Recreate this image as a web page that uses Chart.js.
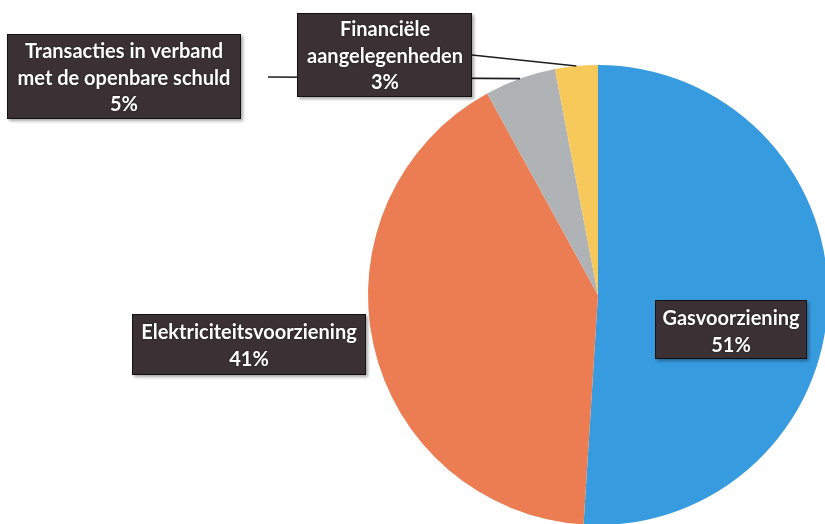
<!DOCTYPE html>
<html>
<head>
<meta charset="utf-8">
<script src="https://cdn.jsdelivr.net/npm/chart.js@4/dist/chart.umd.min.js"></script>
<style>
  html, body { margin: 0; padding: 0; background: #ffffff; overflow: hidden; }
  #wrap { position: absolute; left: 0; top: 0; width: 830px; height: 530px; }
</style>
</head>
<body>
<div id="wrap"><canvas id="pieChart"></canvas></div>
<script>
// uitgavenverdeling per post (in %)
const categories = [
  ['Gasvoorziening'],
  ['Elektriciteitsvoorziening'],
  ['Transacties in verband', 'met de openbare schuld'],
  ['Financiële', 'aangelegenheden']
];
const shares = [51, 41, 5, 3];
const sliceColors = ['#379be0', '#ec7d52', '#b0b3b5', '#f7c85a'];

// label boxes: box rect, text centre, optional leader start
const labelBoxes = [
  { x: 655, y: 300, w: 152, h: 59, cx: 731, top: 319 },
  { x: 132, y: 314, w: 234, h: 61, cx: 249, top: 333 },
  { x: 7, y: 34, w: 234, h: 85, cx: 124, top: 52, lead: { x: 268, y: 77 } },
  { x: 297, y: 13, w: 175, h: 84, cx: 385, top: 30, lead: { x: 472, y: 55 } }
];
const lineGap = 26.5;

const boxLabels = {
  id: 'boxLabels',
  afterDatasetsDraw(chart) {
    const ctx = chart.ctx;
    const meta = chart.getDatasetMeta(0);
    const data = chart.data.datasets[0].data;
    const total = data.reduce((a, b) => a + b, 0);

    // leader lines first, boxes are drawn over them
    ctx.save();
    ctx.strokeStyle = '#1e1e1e';
    ctx.lineWidth = 1.6;
    meta.data.forEach((arc, i) => {
      const box = labelBoxes[i];
      if (!box.lead) return;
      const mid = (arc.startAngle + arc.endAngle) / 2;
      const px = arc.x + Math.cos(mid) * arc.outerRadius;
      const py = arc.y + Math.sin(mid) * arc.outerRadius;
      ctx.beginPath();
      ctx.moveTo(box.lead.x, box.lead.y);
      ctx.lineTo(px, py);
      ctx.stroke();
    });
    ctx.restore();

    meta.data.forEach((arc, i) => {
      const box = labelBoxes[i];
      ctx.save();
      ctx.shadowColor = 'rgba(0,0,0,0.35)';
      ctx.shadowBlur = 3;
      ctx.shadowOffsetX = 2;
      ctx.shadowOffsetY = 2;
      ctx.fillStyle = '#3b3135';
      ctx.fillRect(box.x, box.y, box.w, box.h);
      ctx.restore();

      ctx.save();
      ctx.strokeStyle = '#111111';
      ctx.lineWidth = 1;
      ctx.strokeRect(box.x + 0.5, box.y + 0.5, box.w - 1, box.h - 1);

      const lines = categories[i].concat([Math.round(data[i] / total * 100) + '%']);
      ctx.fillStyle = '#ffffff';
      ctx.font = 'bold 20px Lato';
      ctx.textAlign = 'center';
      ctx.textBaseline = 'middle';
      ctx.shadowColor = 'rgba(0,0,0,0.6)';
      ctx.shadowBlur = 2;
      lines.forEach((t, k) => {
        ctx.fillText(t, box.cx, box.top + k * lineGap);
      });
      ctx.restore();
    });
  }
};

const ctx = document.getElementById('pieChart');
new Chart(ctx, {
  type: 'pie',
  data: {
    labels: categories,
    datasets: [{
      data: shares,
      backgroundColor: sliceColors,
      borderWidth: 0
    }]
  },
  options: {
    responsive: true,
    maintainAspectRatio: false,
    animation: false,
    layout: {
      padding: { left: 367, top: 65, right: 1, bottom: 5 }
    },
    plugins: {
      legend: { display: false },
      tooltip: { enabled: false }
    }
  },
  plugins: [boxLabels]
});
</script>
</body>
</html>
